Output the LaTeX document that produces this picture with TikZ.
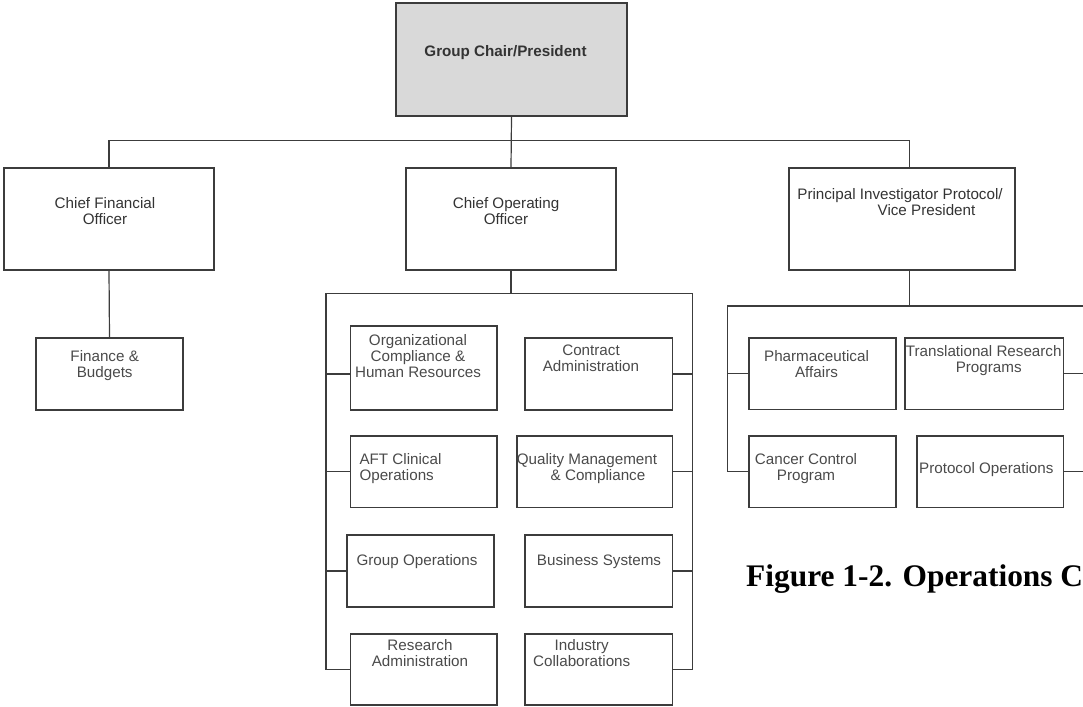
\documentclass[tikz,border=0pt]{standalone}
\usepackage{fontspec}
\setmainfont{Liberation Serif}
\setsansfont{Liberation Sans}
\usepackage{xcolor}
\usepackage{tikz}
\usetikzlibrary{positioning}

\definecolor{linegray}{HTML}{3C3C3C}
\definecolor{headgray}{HTML}{D9D9D9}
\definecolor{txtgray}{HTML}{333333}
\definecolor{subgray}{HTML}{4A4A4A}

\tikzset{
  box/.style={rectangle, draw=linegray, line width=1.1pt, inner sep=0pt},
  txt/.style={inner sep=0pt, align=center, anchor=base, text=txtgray,
    font=\sffamily\fontsize{15.2pt}{16pt}\selectfont},
  headtxt/.style={txt, font=\sffamily\bfseries\fontsize{15.2pt}{16pt}\selectfont},
  subtxt/.style={txt, text=subgray},
  wire/.style={draw=linegray, line width=1.2pt},
}

\begin{document}
\begin{tikzpicture}[x=1pt,y=-1pt]
    \useasboundingbox (0,0) rectangle (1083,706);
    \clip (0,0) rectangle (1083,706);
    % top box
    \node[box,fill=headgray,minimum width=231pt,minimum height=113pt] (pres) at (511.5,59.5) {};
    \node[headtxt] (pres-t) at (505.5,57) {Group Chair/President};
    % second level (text nodes sit on the baseline of their last line)
    \node[box,minimum width=210pt,minimum height=102pt] (cfo) at (109,219) {};
    \node[box,minimum width=210pt,minimum height=102pt] (coo) at (511,219) {};
    \node[box,minimum width=226pt,minimum height=102pt] (pi) at (902,219) {};
    \node[txt] (cfo-t) at (105,224) {Chief Financial\\Officer};
    \node[txt] (coo-t) at (506,224) {Chief Operating\\Officer};
    \node[txt] (pi-t) at (900,215) {Principal Investigator Protocol/\\\hspace*{53pt}Vice President};
    % finance
    \node[box,minimum width=147pt,minimum height=72pt] (fin) at (109.5,374) {};
    \node[subtxt] (fin-t) at (104.7,377.7) {Finance \&\\Budgets};
    % operations, left column
    \node[box,minimum width=146.5pt,minimum height=84pt] (oc) at (423.75,368) {};
    \node[box,minimum width=146.5pt,minimum height=71.3pt] (aft) at (423.75,471.65) {};
    \node[box,minimum width=147pt,minimum height=72pt] (go) at (420.5,571) {};
    \node[box,minimum width=146.5pt,minimum height=71pt] (ra) at (423.75,669.5) {};
    \node[subtxt] (oc-t) at (418,377.7) {Organizational\\Compliance \&\\Human Resources};
    \node[subtxt,align=left,anchor=base west] (aft-t) at (359.3,480.3) {AFT Clinical\\Operations};
    \node[subtxt] (go-t) at (417,565) {Group Operations};
    \node[subtxt] (ra-t) at (420,666) {Research\\Administration};
    % operations, right column
    \node[box,minimum width=147.5pt,minimum height=72pt] (ca) at (598.75,374) {};
    \node[box,minimum width=155.5pt,minimum height=71.3pt] (qm) at (594.75,471.65) {};
    \node[box,minimum width=147.5pt,minimum height=72pt] (bs) at (598.75,571) {};
    \node[box,minimum width=147.5pt,minimum height=71pt] (ic) at (598.75,669.5) {};
    \node[subtxt] (ca-t) at (591,371) {Contract\\Administration};
    \node[subtxt] (qm-t) at (587,480.3) {Quality Management\\\hspace*{22pt}\& Compliance};
    \node[subtxt] (bs-t) at (599,565) {Business Systems};
    \node[subtxt] (ic-t) at (581.7,666) {Industry\\Collaborations};
    % protocol group
    \node[box,minimum width=147pt,minimum height=71.3pt] (pa) at (822.5,373.65) {};
    \node[box,minimum width=158.3pt,minimum height=71.3pt] (tr) at (984.15,373.65) {};
    \node[box,minimum width=147pt,minimum height=71.3pt] (cc) at (822.5,471.65) {};
    \node[box,minimum width=146.3pt,minimum height=71.3pt] (po) at (990.15,471.65) {};
    \node[subtxt] (pa-t) at (816.5,377.7) {Pharmaceutical\\Affairs};
    \node[subtxt] (tr-t) at (983.7,372.7) {Translational Research\\\hspace*{10pt}Programs};
    \node[subtxt] (cc-t) at (806,480.3) {Cancer Control\\Program};
    \node[subtxt] (po-t) at (986.3,473.3) {Protocol Operations};
    % junction points
    \coordinate (bus) at (511,140.7);
    \coordinate (cl) at (326,293.3);
    \coordinate (cr) at (692.7,293.3);
    \coordinate (pbus) at (909.7,306);
    \coordinate (pl) at (727.3,306);
    \coordinate (pr) at (1100,306);
    % top lines
    \draw[wire] (pres.south) -- (coo.north);
    \draw[wire] (cfo.north) |- (bus) -| (pbus |- pi.north);
    \draw[wire] (cfo.south) -- (fin.north);
    % operations bracket
    \draw[wire] (coo.south) |- (cl) |- (ra.west);
    \draw[wire] (coo.south) |- (cr) |- (ic.east);
    \draw[wire] (cl |- ca.east) -- (oc.west |- ca.east);
    \draw[wire] (aft.west) -- (aft.west -| cl);
    \draw[wire] (go.west) -- (go.west -| cl);
    \draw[wire] (ca.east) -- (ca.east -| cr);
    \draw[wire] (qm.east) -- (qm.east -| cr);
    \draw[wire] (bs.east) -- (bs.east -| cr);
    % protocol bracket
    \draw[wire] (pbus |- pi.south) -- (pbus) -- (pl) |- (cc.west);
    \draw[wire] (pbus) -- (pr) |- (po.east);
    \draw[wire] (pa.west) -- (pa.west -| pl);
    \draw[wire] (tr.east) -- (tr.east -| pr);
    % caption
    \node[inner sep=0pt,anchor=base west,font=\bfseries\fontsize{31.4pt}{36pt}\selectfont] (cap) at (746,586) {Figure 1-2. Operations C};
\end{tikzpicture}
\end{document}
